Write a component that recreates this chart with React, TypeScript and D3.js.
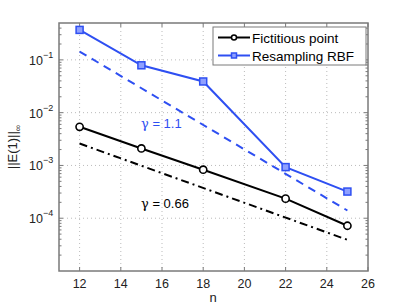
import React from 'react';
import * as d3 from 'd3';

// data
const nValues = [12, 15, 18, 22, 25];
const fictitious = [5.4e-3, 2.1e-3, 8.3e-4, 2.35e-4, 7.2e-5];
const resampling = [0.37, 0.079, 0.039, 9.3e-4, 3.2e-4];
const rateLineN = [12, 25];
const rateBlue = [0.144, 1.4e-4];
const rateBlack = [2.6e-3, 3.9e-5];
const xTicks = [12, 14, 16, 18, 20, 22, 24, 26];
const yTicks = [-1, -2, -3, -4];

const BLUE = '#2e4ff2';

const App = () => {
  const W = 407, H = 306;
  const left = 59, right = 368, top = 23, bottom = 271;

  const x = d3.scaleLinear().domain([11, 26]).range([left, right]);
  const y = d3.scaleLog().domain([1e-5, 0.5]).range([bottom, top]);

  const line = d3.line<[number, number]>()
    .x(d => x(d[0]))
    .y(d => y(d[1]));

  const fictPts = nValues.map((n, i) => [n, fictitious[i]] as [number, number]);
  const resPts = nValues.map((n, i) => [n, resampling[i]] as [number, number]);
  const bluePts = rateLineN.map((n, i) => [n, rateBlue[i]] as [number, number]);
  const blackPts = rateLineN.map((n, i) => [n, rateBlack[i]] as [number, number]);

  // minor ticks for the log axis
  const minor: number[] = [];
  for (let e = -5; e <= -1; e++) {
    for (let m = 2; m <= 9; m++) {
      const v = m * Math.pow(10, e);
      if (v < 0.5) minor.push(v);
    }
  }

  const font = 'Liberation Sans, Arial, sans-serif';
  const axisColor = '#7a7a7a';

  return (
    <svg width={W} height={H} style={{ position: 'absolute', left: 0, top: 0, background: '#fff' }}>
      <rect x={0} y={0} width={W} height={H} fill="#fff" />
      {/* grid */}
      {xTicks.slice(0, -1).map(t => (
        <line key={'gx' + t} x1={x(t)} x2={x(t)} y1={top} y2={bottom}
          stroke="#aaa" strokeWidth={0.8} strokeDasharray="1,3" />
      ))}
      {yTicks.map(e => (
        <line key={'gy' + e} x1={left} x2={right} y1={y(Math.pow(10, e))} y2={y(Math.pow(10, e))}
          stroke="#aaa" strokeWidth={0.8} strokeDasharray="1,3" />
      ))}
      {/* ticks */}
      {xTicks.map(t => (
        <g key={'tx' + t}>
          <line x1={x(t)} x2={x(t)} y1={bottom} y2={bottom - 4} stroke={axisColor} />
          <line x1={x(t)} x2={x(t)} y1={top} y2={top + 4} stroke={axisColor} />
          <text x={x(t)} y={288} textAnchor="middle" fontFamily={font} fontSize={12.5} fill="#222">{t}</text>
        </g>
      ))}
      {yTicks.map(e => {
        const yy = y(Math.pow(10, e));
        return (
          <g key={'ty' + e}>
            <line x1={left} x2={left + 4} y1={yy} y2={yy} stroke={axisColor} />
            <line x1={right} x2={right - 4} y1={yy} y2={yy} stroke={axisColor} />
            <text x={29} y={yy + 5} fontFamily={font} fontSize={12.5} fill="#222">
              10<tspan dy={-7} fontSize={9}>{'\u2212' + Math.abs(e)}</tspan>
            </text>
          </g>
        );
      })}
      {minor.map((v, i) => (
        <g key={'m' + i}>
          <line x1={left} x2={left + 2.5} y1={y(v)} y2={y(v)} stroke={axisColor} />
          <line x1={right} x2={right - 2.5} y1={y(v)} y2={y(v)} stroke={axisColor} />
        </g>
      ))}
      {/* rate lines */}
      <path d={line(bluePts) || ''} fill="none" stroke={BLUE} strokeWidth={2} strokeDasharray="8,6" />
      <path d={line(blackPts) || ''} fill="none" stroke="#000" strokeWidth={2} strokeDasharray="8,4,2,4" />
      {/* data */}
      <path d={line(resPts) || ''} fill="none" stroke={BLUE} strokeWidth={2} />
      {resPts.map((p, i) => (
        <rect key={'s' + i} x={x(p[0]) - 3.5} y={y(p[1]) - 3.5} width={7} height={7}
          fill="#8fa0ff" stroke={BLUE} strokeWidth={1.5} />
      ))}
      <path d={line(fictPts) || ''} fill="none" stroke="#000" strokeWidth={2} />
      {fictPts.map((p, i) => (
        <circle key={'c' + i} cx={x(p[0])} cy={y(p[1])} r={3.6} fill="#fff" stroke="#000" strokeWidth={1.6} />
      ))}
      {/* annotations */}
      <text x={141} y={128} fontFamily={font} fontSize={13} fill={BLUE}>
        <tspan fontFamily="DejaVu Serif, serif">γ</tspan> = 1.1
      </text>
      <text x={141} y={208} fontFamily={font} fontSize={13} fill="#000">
        <tspan fontFamily="DejaVu Serif, serif">γ</tspan> = 0.66
      </text>
      {/* legend */}
      <rect x={213} y={27} width={153} height={38} fill="#fff" stroke={axisColor} strokeWidth={1} />
      <line x1={218} x2={250} y1={37.5} y2={37.5} stroke="#000" strokeWidth={2} />
      <circle cx={234} cy={37.5} r={2.5} fill="#fff" stroke="#000" strokeWidth={1.5} />
      <text x={252} y={42.5} fontFamily={font} fontSize={13.5} fill="#000">Fictitious point</text>
      <line x1={218} x2={250} y1={55.5} y2={55.5} stroke={BLUE} strokeWidth={2} />
      <rect x={231.5} y={53} width={5} height={5} fill="#8fa0ff" stroke={BLUE} strokeWidth={1.5} />
      <text x={252} y={60.5} fontFamily={font} fontSize={13.5} fill="#000">Resampling RBF</text>
      {/* axes box */}
      <rect x={left} y={top} width={right - left} height={bottom - top} fill="none" stroke={axisColor} strokeWidth={1.5} />
      {/* labels */}
      <text x={213} y={302} textAnchor="middle" fontFamily={font} fontSize={13} fill="#222">n</text>
      <text transform={`translate(17,${(top + bottom) / 2}) rotate(-90)`} textAnchor="middle"
        fontFamily={font} fontSize={13} fill="#222">
        ||E(1)||<tspan dy={4} fontSize={9}>∞</tspan>
      </text>
    </svg>
  );
};

export default App;
